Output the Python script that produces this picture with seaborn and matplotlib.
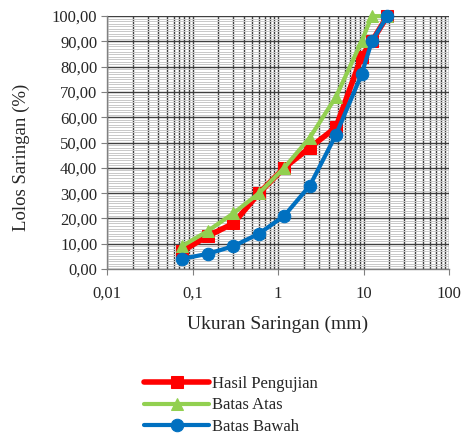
import matplotlib
matplotlib.use("Agg")
import matplotlib.pyplot as plt
import matplotlib.ticker as mticker
import numpy as np
import pandas as pd
import seaborn as sns

# sieve sizes (mm) and passing percentages
ukuran = [0.075, 0.15, 0.3, 0.6, 1.18, 2.36, 4.75, 9.5, 12.5, 19]
hasil_pengujian = [7, 13, 18, 30, 40, 48, 56, 84, 90, 100]
batas_atas = [9, 15, 22, 30, 40, 52, 68, 90, 100, 100]
batas_bawah = [4, 6, 9, 14, 21, 33, 53, 77, 90, 100]

x_ticks = [0.01, 0.1, 1, 10, 100]
x_labels = ["0,01", "0,1", "1", "10", "100"]

sns.set_style("white")
plt.rcParams["font.family"] = ["Liberation Serif", "DejaVu Serif"]

fig = plt.figure(figsize=(4.64, 4.36), dpi=100)
ax = fig.add_axes([0.2306, 0.383, 0.7371, 0.580])

series = [
    ("Hasil Pengujian", hasil_pengujian, "#FF0000", "s", 4.0, 8),
    ("Batas Atas", batas_atas, "#92D050", "^", 3.0, 9),
    ("Batas Bawah", batas_bawah, "#0070C0", "o", 3.0, 9),
]
for name, vals, col, mk, lw, ms in series:
    df = pd.DataFrame({"ukuran": ukuran, "lolos": vals})
    sns.lineplot(data=df, x="ukuran", y="lolos", ax=ax, color=col, marker=mk,
                 markersize=ms, linewidth=lw, markeredgecolor=col,
                 label=name, zorder=3, clip_on=False)

ax.set_xscale("log")
ax.set_xlim(0.01, 100)
ax.set_ylim(0, 100)
ax.set_xticks(x_ticks)
ax.set_xticklabels(x_labels, fontsize=12)
ax.xaxis.set_minor_locator(mticker.LogLocator(base=10, subs=np.arange(2, 10)))
ax.xaxis.set_minor_formatter(mticker.NullFormatter())
ax.set_yticks(np.arange(0, 101, 10))
ax.set_yticklabels([f"{v:.2f}".replace(".", ",") for v in np.arange(0, 101, 10)], fontsize=12)
ax.yaxis.set_minor_locator(mticker.MultipleLocator(1))

ax.grid(which="major", axis="both", color="#404040", linewidth=1.0)
ax.grid(which="minor", axis="x", color="#404040", linewidth=1.0)
ax.grid(which="minor", axis="y", color="#C8C8C8", linewidth=0.7)
ax.set_axisbelow(True)

ax.tick_params(axis="x", which="major", direction="out", length=4, color="#808080",
               pad=8, bottom=True)
ax.tick_params(axis="y", which="major", direction="out", length=4, color="#808080",
               pad=3, left=True)
ax.tick_params(axis="both", which="minor", length=0)
for side in ["top", "right"]:
    ax.spines[side].set_visible(False)
for side in ["left", "bottom"]:
    ax.spines[side].set_color("#808080")
    ax.spines[side].set_linewidth(1.0)

ax.set_xlabel("Ukuran Saringan (mm)", fontsize=14, labelpad=10)
ax.set_ylabel("Lolos Saringan (%)", fontsize=13.5)
ax.yaxis.set_label_coords(-0.225, 0.44)

ax.legend(loc="upper left", bbox_to_anchor=(0.09, -0.395), frameon=False,
          fontsize=12, handlelength=3.9, handletextpad=0.15, labelspacing=0.35,
          borderaxespad=0)

fig.savefig("out.png", dpi=100)
